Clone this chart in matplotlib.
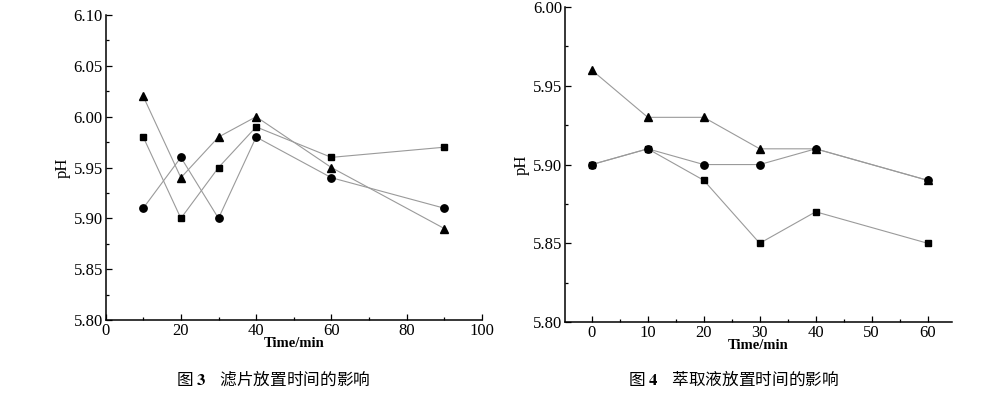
import numpy as np
from matplotlib import pyplot as plt
from matplotlib.ticker import MultipleLocator

plt.rcParams['font.family'] = ['Liberation Serif', 'Noto Sans CJK SC']
plt.rcParams['mathtext.fontset'] = 'stix'

# fig 3: filter placement time
t3 = [10, 20, 30, 40, 60, 90]
sq3 = [5.98, 5.90, 5.95, 5.99, 5.96, 5.97]
ci3 = [5.91, 5.96, 5.90, 5.98, 5.94, 5.91]
tr3 = [6.02, 5.94, 5.98, 6.00, 5.95, 5.89]

# fig 4: extract placement time
t4 = [0, 10, 20, 30, 40, 60]
sq4 = [5.90, 5.91, 5.89, 5.85, 5.87, 5.85]
ci4 = [5.90, 5.91, 5.90, 5.90, 5.91, 5.89]
tr4 = [5.96, 5.93, 5.93, 5.91, 5.91, 5.89]

fig = plt.figure(figsize=(10.06, 3.97), dpi=100)
ax1 = fig.add_axes([0.105, 0.194, 0.374, 0.768])
ax2 = fig.add_axes([0.5616, 0.189, 0.3844, 0.793])

def draw(ax, t, sq, ci, tr):
    for y, m, ms in [(sq, 's', 5), (ci, 'o', 5.3), (tr, '^', 6)]:
        ax.plot(t, y, color='#9a9a9a', lw=0.8, zorder=1)
        ax.plot(t, y, ls='none', marker=m, ms=ms, color='black', zorder=2)
    for s in ['top', 'right']:
        ax.spines[s].set_visible(False)
    for s in ['left', 'bottom']:
        ax.spines[s].set_linewidth(1.1)
    ax.tick_params(which='both', direction='in', labelsize=12, width=0.9)
    ax.tick_params(which='major', length=4, pad=2)
    ax.tick_params(which='minor', length=2.5)
    ax.set_ylabel('pH', fontsize=12, labelpad=2)
    ax.set_xlabel('Time/min', fontsize=10.5, fontweight='bold', labelpad=-1)

draw(ax1, t3, sq3, ci3, tr3)
ax1.set_xlim(0, 100)
ax1.set_ylim(5.80, 6.10)
ax1.xaxis.set_major_locator(MultipleLocator(20))
ax1.xaxis.set_minor_locator(MultipleLocator(10))
ax1.yaxis.set_major_locator(MultipleLocator(0.05))
ax1.yaxis.set_minor_locator(MultipleLocator(0.025))
ax1.yaxis.set_major_formatter(plt.FormatStrFormatter('%.2f'))

draw(ax2, t4, sq4, ci4, tr4)
ax2.set_xlim(-4.8, 64.3)
ax2.set_ylim(5.80, 6.00)
ax2.xaxis.set_major_locator(MultipleLocator(10))
ax2.xaxis.set_minor_locator(MultipleLocator(5))
ax2.yaxis.set_major_locator(MultipleLocator(0.05))
ax2.yaxis.set_minor_locator(MultipleLocator(0.025))
ax2.yaxis.set_major_formatter(plt.FormatStrFormatter('%.2f'))

cap = ['Noto Sans CJK SC', 'Liberation Serif']
fig.text(0.272, 0.03, '图 $\\mathbf{3}$    滤片放置时间的影响', ha='center',
         fontsize=12, family=cap)
fig.text(0.729, 0.03, '图 $\\mathbf{4}$    萃取液放置时间的影响', ha='center',
         fontsize=12, family=cap)

fig.savefig('out.png', dpi=100)
